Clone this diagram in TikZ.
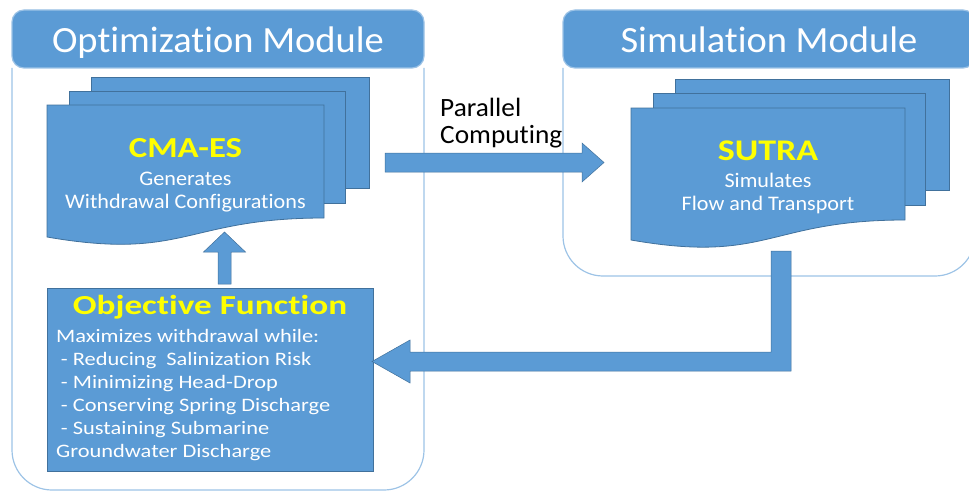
\documentclass[tikz,border=0pt]{standalone}
\usepackage{fontspec}
\setmainfont{Carlito}[Ligatures=NoCommon]
% widened cuts of the same face for the different text blocks
\newfontfamily\titleface{Carlito}[Ligatures=NoCommon, FakeStretch=1.04]
\newfontfamily\headface{Carlito}[Ligatures=NoCommon, FakeStretch=1.2]
\newfontfamily\objheadface{Carlito}[Ligatures=NoCommon, FakeStretch=1.28]
\newfontfamily\docface{Carlito}[Ligatures=NoCommon, FakeStretch=1.07]
\newfontfamily\listface{Carlito}[Ligatures=NoCommon, FakeStretch=1.18]
\newfontfamily\labelface{Carlito}[Ligatures=NoCommon, FakeStretch=1.035]
\usetikzlibrary{calc}

\definecolor{boxblue}{HTML}{5B9BD5}
\definecolor{edgeblue}{HTML}{41719C}
\definecolor{frameblue}{HTML}{9DC3E6}
\definecolor{headyellow}{HTML}{FFFF00}

\tikzset{
  blockfill/.style={fill=boxblue, draw=edgeblue, line width=0.8pt},
  arrowfill/.style={fill=boxblue, draw=edgeblue, line width=0.5pt},
  framebody/.style={draw=frameblue, line width=1.2pt},
  framehead/.style={fill=boxblue, draw=frameblue, line width=1.2pt},
  titletext/.style={text=white, font=\titleface\fontsize{37}{42}\selectfont, inner sep=0pt},
  headtext/.style={text=headyellow, font=\headface\bfseries\fontsize{29}{33}\selectfont, inner sep=0pt},
  bodytext/.style={text=white, font=\docface\fontsize{20.7}{22.5}\selectfont, inner sep=0pt, align=center},
  listtext/.style={text=white, font=\listface\fontsize{19}{23.1}\selectfont, inner sep=0pt, align=left},
  labeltext/.style={text=black, font=\labelface\fontsize{26.4}{26.7}\selectfont, inner sep=0pt, align=left},
}

\begin{document}
\begin{tikzpicture}[x=1pt, y=-1pt]
\useasboundingbox (0,0) rectangle (969,495);
\clip (0,0) rectangle (969,495);

% ---- module frames ----
% optimization module
\draw[framebody, rounded corners=40pt] (12,68) -- (12,490) -- (424,490) -- (424,68);
\draw[framehead, rounded corners=12pt] (12,68) -- (12,10) -- (424,10) -- (424,68) -- cycle;
\node[titletext, anchor=base] (optT) at (218,53) {Optimization Module};

% simulation module
\draw[framebody, rounded corners=40pt] (563,68) -- (563,276) -- (975,276) -- (975,68);
\draw[framehead, rounded corners=12pt] (563,68) -- (563,10) -- (975,10) -- (975,68) -- cycle;
\node[titletext, anchor=base] (simT) at (769,53) {Simulation Module};

% ---- CMA-ES stacked documents ----
\draw[blockfill] (91,77) rectangle (369,188);
\draw[blockfill] (69,91) rectangle (345,203);
\draw[blockfill] (47,105) -- (324,105) -- (324,218)
  .. controls (185.5,218) and (185.5,261) .. (47,237) -- cycle;
\node[headtext, anchor=base] (cma) at (185.5,157) {CMA-ES};
% multi-line nodes: the base anchor sits on the last line
\node[bodytext, anchor=base] (cmaB) at (185.5,208) {Generates\\Withdrawal Configurations};

% ---- SUTRA stacked documents ----
\draw[blockfill] (675,79) rectangle (949,190);
\draw[blockfill] (653,93) rectangle (925,205);
\draw[blockfill] (631,108) -- (905,108) -- (905,220)
  .. controls (768,220) and (768,264) .. (631,240) -- cycle;
\node[headtext, font=\headface\bfseries\fontsize{30}{33}\selectfont, anchor=base] (sutra) at (768,160.5) {SUTRA};
\node[bodytext, anchor=base] (sutraB) at (768,210) {Simulates\\Flow and Transport};

% ---- objective function ----
\node[blockfill, minimum width=326pt, minimum height=183pt, inner sep=0pt] (obj) at (210,379.5) {};
\node[headtext, font=\objheadface\bfseries\fontsize{27.5}{32}\selectfont, anchor=base] (objT) at (210,314) {Objective Function};
\node[listtext, anchor=base west] (objB) at (56,457.7)
  {Maximizes withdrawal while:\\
   \hspace*{0.25em}- Reducing\ \ Salinization Risk\\
   \hspace*{0.25em}- Minimizing Head-Drop\\
   \hspace*{0.25em}- Conserving Spring Discharge\\
   \hspace*{0.25em}- Sustaining Submarine\\
   Groundwater Discharge};

% ---- block arrows ----
% feedback: objective -> CMA-ES
\coordinate (upTail) at (224.5,284);
\coordinate (upTip) at (224.5,232);
\draw[arrowfill] ($(upTail)+(-6.5,0)$) -- ($(upTip)+(-6.5,20)$) -- ($(upTip)+(-21,20)$) -- (upTip)
  -- ($(upTip)+(21,20)$) -- ($(upTip)+(6.5,20)$) -- ($(upTail)+(6.5,0)$) -- cycle;

% CMA-ES -> SUTRA
\coordinate (pcTail) at (385,162.5);
\coordinate (pcTip) at (604,162.5);
\draw[arrowfill] ($(pcTail)+(0,-9.5)$) -- ($(pcTip)+(-22,-9.5)$) -- ($(pcTip)+(-22,-19.5)$) -- (pcTip)
  -- ($(pcTip)+(-22,19.5)$) -- ($(pcTip)+(-22,9.5)$) -- ($(pcTail)+(0,9.5)$) -- cycle;
\node[labeltext, anchor=base west] (pc) at (440,143.3) {Parallel\\Computing};

% SUTRA -> objective (bent)
\coordinate (bTail) at (781,251);
\coordinate (bTip) at (372,361.5);
\draw[arrowfill] ($(bTail)+(-10,0)$) -- ($(bTail)+(10,0)$) -- ($(bTail)+(10,120)$) -- ($(bTip)+(38,9.5)$)
  -- ($(bTip)+(38,21.5)$) -- (bTip) -- ($(bTip)+(38,-21.5)$) -- ($(bTip)+(38,-9.5)$)
  -- ($(bTail)+(-10,101)$) -- cycle;
\end{tikzpicture}
\end{document}
